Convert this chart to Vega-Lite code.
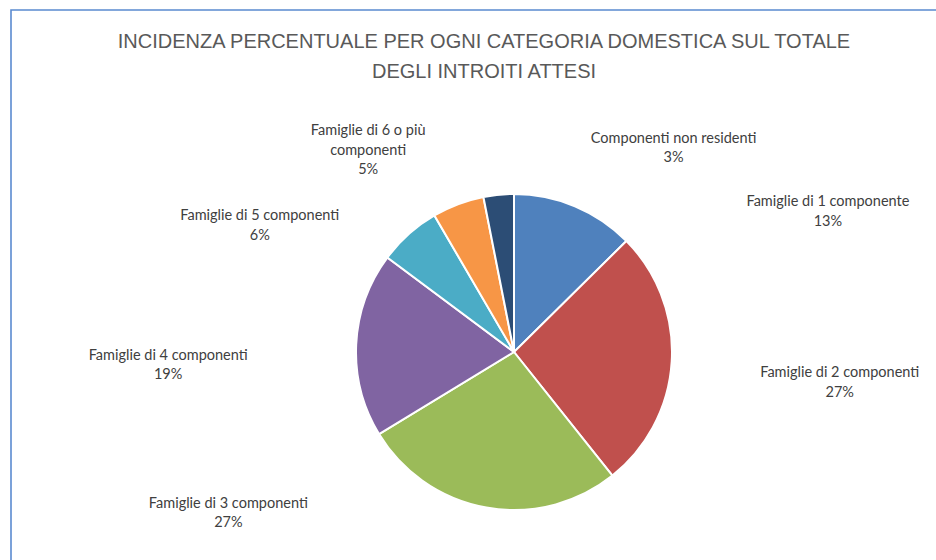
{
  "$schema": "https://vega.github.io/schema/vega-lite/v6.json",
  "width": 1006,
  "height": 684,
  "autosize": {"type": "none"},
  "padding": {"left": 11, "top": 10, "right": -81, "bottom": -134},
  "background": "white",
  "view": {"stroke": "#5A8AD0", "strokeWidth": 1.6},
  "config": {"view": {"stroke": "#5A8AD0", "strokeWidth": 1.6}},
  "title": {
    "text": ["INCIDENZA PERCENTUALE PER OGNI CATEGORIA DOMESTICA SUL TOTALE", "DEGLI INTROITI ATTESI"],
    "font": "Liberation Sans",
    "fontSize": 20,
    "fontWeight": "normal",
    "color": "#595959",
    "lineHeight": 30,
    "anchor": "middle",
    "offset": -72,
    "dx": -30
  },
  "data": {
    "values": [
      {"ordine": 1, "nome": "Famiglie di 1 componente", "quota": 12.6},
      {"ordine": 2, "nome": "Famiglie di 2 componenti", "quota": 26.7},
      {"ordine": 3, "nome": "Famiglie di 3 componenti", "quota": 27.0},
      {"ordine": 4, "nome": "Famiglie di 4 componenti", "quota": 18.9},
      {"ordine": 5, "nome": "Famiglie di 5 componenti", "quota": 6.4},
      {"ordine": 6, "nome": "Famiglie di 6 o più\ncomponenti", "quota": 5.3},
      {"ordine": 7, "nome": "Componenti non residenti", "quota": 3.1}
    ]
  },
  "transform": [
    {"calculate": "datum.nome + '\\n' + format(datum.quota / 100, '.0%')", "as": "etichetta"}
  ],
  "layer": [
    {
      "mark": {"type": "arc", "outerRadius": 158, "stroke": "white", "strokeWidth": 2},
      "encoding": {
        "theta": {"field": "quota", "type": "quantitative", "stack": true},
        "order": {"field": "ordine", "type": "quantitative"},
        "color": {
          "field": "nome",
          "type": "nominal",
          "scale": {
            "domain": ["Famiglie di 1 componente", "Famiglie di 2 componenti", "Famiglie di 3 componenti", "Famiglie di 4 componenti", "Famiglie di 5 componenti", "Famiglie di 6 o più\ncomponenti", "Componenti non residenti"],
            "range": ["#4F81BD", "#C0504D", "#9BBB59", "#8064A2", "#4BACC6", "#F79646", "#2C4D75"]
          },
          "legend": null
        }
      }
    },
    {
      "mark": {
        "type": "text",
        "radius": 158,
        "font": "Lato",
        "fontSize": 14.5,
        "color": "#404040",
        "lineBreak": "\n",
        "lineHeight": 19.5,
        "align": "center",
        "baseline": "middle",
        "dx": {"expr": "[253, 168, -258, -188, -149, -90, 175][datum.ordine - 1]"},
        "dy": {"expr": "[-4, 12, -4, 11, -18, -73, -56][datum.ordine - 1]"}
      },
      "encoding": {
        "theta": {"field": "quota", "type": "quantitative", "stack": true},
        "order": {"field": "ordine", "type": "quantitative"},
        "text": {"field": "etichetta", "type": "nominal"}
      }
    }
  ]
}
